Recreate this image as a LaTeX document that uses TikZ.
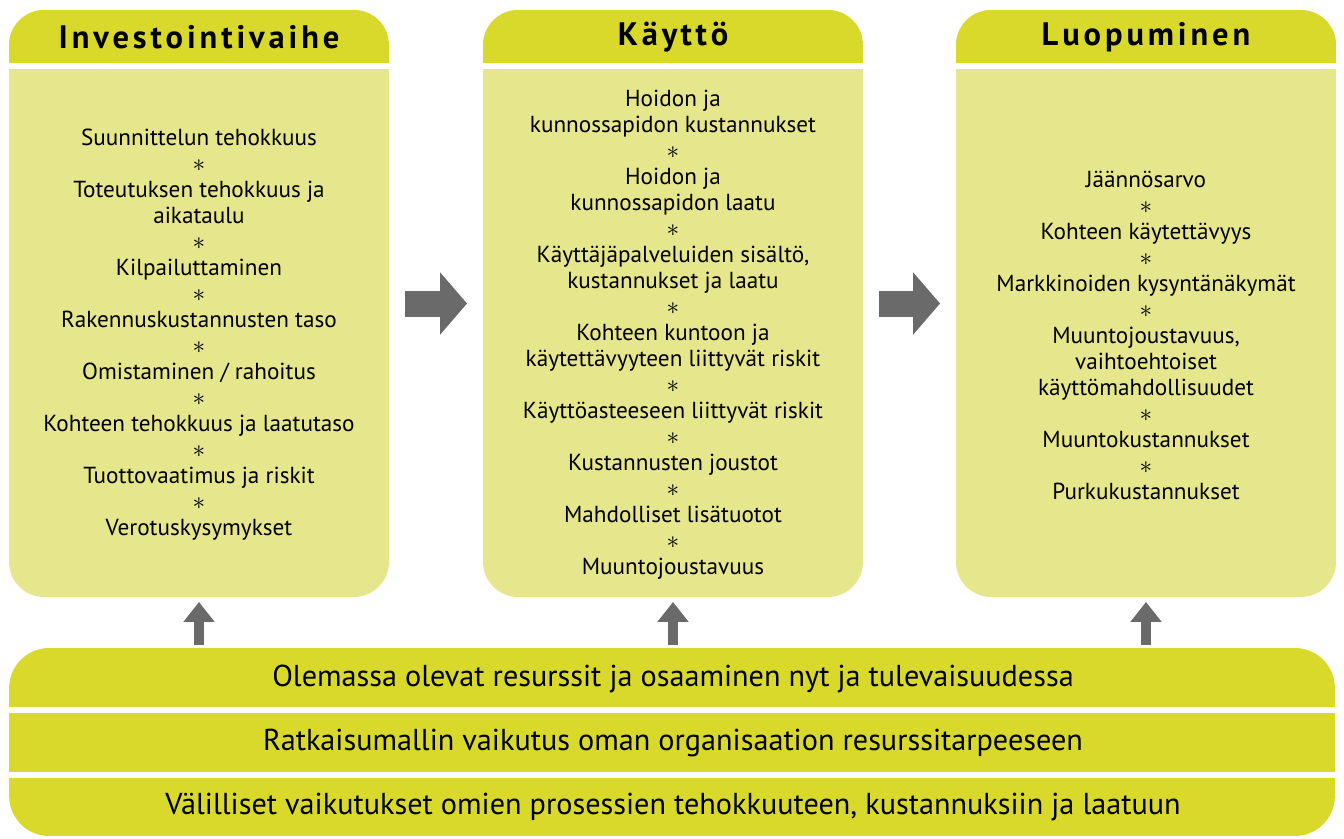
\documentclass[tikz,border=0pt]{standalone}
\usepackage{fontspec}
\setmainfont{PT Sans}
\newfontfamily\headfont{PT Sans}[LetterSpace=12]
\usetikzlibrary{arrows.meta}
\definecolor{headc}{RGB}{216,217,42}
\definecolor{bodyc}{RGB}{230,230,140}
\definecolor{arrowc}{RGB}{106,106,106}
\newcommand{\starsep}{{\fontsize{15}{14.8}\selectfont$\ast$}}

\begin{document}
\begin{tikzpicture}[x=0.02cm, y=-0.02cm,
  col/.style={fill=bodyc, rounded corners=0.7cm, minimum width=7.6cm, minimum height=11.74cm,
    inner sep=0, outer sep=0, path picture={
      \fill[headc, sharp corners] (path picture bounding box.north west) rectangle ([yshift=-1.06cm]path picture bounding box.north east);
      \fill[white, sharp corners] ([yshift=-1.06cm]path picture bounding box.north west) rectangle ([yshift=-1.18cm]path picture bounding box.north east);}},
  band/.style={fill=headc, rounded corners=0.8cm, minimum width=26.52cm, minimum height=3.76cm,
    inner sep=0, outer sep=0, path picture={
      \fill[white, sharp corners] ([yshift=-1.18cm]path picture bounding box.north west) rectangle ([yshift=-1.30cm]path picture bounding box.north east);
      \fill[white, sharp corners] ([yshift=-2.48cm]path picture bounding box.north west) rectangle ([yshift=-2.60cm]path picture bounding box.north east);}},
  headtxt/.style={font=\headfont\bfseries\fontsize{18.5}{20}\selectfont, inner sep=0},
  txt/.style={align=center, font=\fontsize{13.2}{14.8}\selectfont, inner sep=0},
  bandtxt/.style={font=\fontsize{17.2}{18}\selectfont, inner sep=0},
  rarrow/.style={arrowc, line width=0.52cm, -{Triangle[length=0.54cm, width=1.22cm]},
    shorten <=0.32cm, shorten >=0.32cm},
  uarrow/.style={arrowc, line width=0.2cm, -{Triangle[length=0.4cm, width=0.6cm]},
    shorten <=0.06cm, shorten >=0.1cm}]
  \useasboundingbox (0,0) rectangle (1344,838);

  \node[col] (inv) at (199,303.5) {};
  \node[col] (kay) at (673,303.5) {};
  \node[col] (luo) at (1146,303.5) {};
  \node[band] (band) at (672,742) {};

  \node[headtxt] (invH) at (199,37) {Investointivaihe};
  \node[headtxt] (kayH) at (673,37) {Käyttö};
  \node[headtxt] (luoH) at (1146,37) {Luopuminen};

  \node[txt] (invL) at (199,335) {Suunnittelun tehokkuus\\ \starsep\\ Toteutuksen tehokkuus ja\\ aikataulu\\ \starsep\\
    Kilpailuttaminen\\ \starsep\\ Rakennuskustannusten taso\\ \starsep\\ Omistaminen / rahoitus\\ \starsep\\
    Kohteen tehokkuus ja laatutaso\\ \starsep\\ Tuottovaatimus ja riskit\\ \starsep\\ Verotuskysymykset};
  \node[txt] (kayL) at (673,335) {Hoidon ja\\ kunnossapidon kustannukset\\ \starsep\\ Hoidon ja\\ kunnossapidon laatu\\ \starsep\\
    Käyttäjäpalveluiden sisältö,\\ kustannukset ja laatu\\ \starsep\\ Kohteen kuntoon ja\\ käytettävyyteen liittyvät riskit\\ \starsep\\
    Käyttöasteeseen liittyvät riskit\\ \starsep\\ Kustannusten joustot\\ \starsep\\ Mahdolliset lisätuotot\\ \starsep\\ Muuntojoustavuus};
  \node[txt] (luoL) at (1146,335) {Jäännösarvo\\ \starsep\\ Kohteen käytettävyys\\ \starsep\\ Markkinoiden kysyntänäkymät\\ \starsep\\
    Muuntojoustavuus,\\ vaihtoehtoiset\\ käyttömahdollisuudet\\ \starsep\\ Muuntokustannukset\\ \starsep\\ Purkukustannukset};

  \node[bandtxt] (res) at (673,679) {Olemassa olevat resurssit ja osaaminen nyt ja tulevaisuudessa};
  \node[bandtxt] (rat) at (673,743) {Ratkaisumallin vaikutus oman organisaation resurssitarpeeseen};
  \node[bandtxt] (val) at (673,807) {Välilliset vaikutukset omien prosessien tehokkuuteen, kustannuksiin ja laatuun};

  \draw[rarrow] (inv.east) -- (kay.west);
  \draw[rarrow] (kay.east) -- (luo.west);
  \draw[uarrow] (inv.south |- band.north) -- (inv.south);
  \draw[uarrow] (kay.south |- band.north) -- (kay.south);
  \draw[uarrow] (luo.south |- band.north) -- (luo.south);
\end{tikzpicture}
\end{document}
